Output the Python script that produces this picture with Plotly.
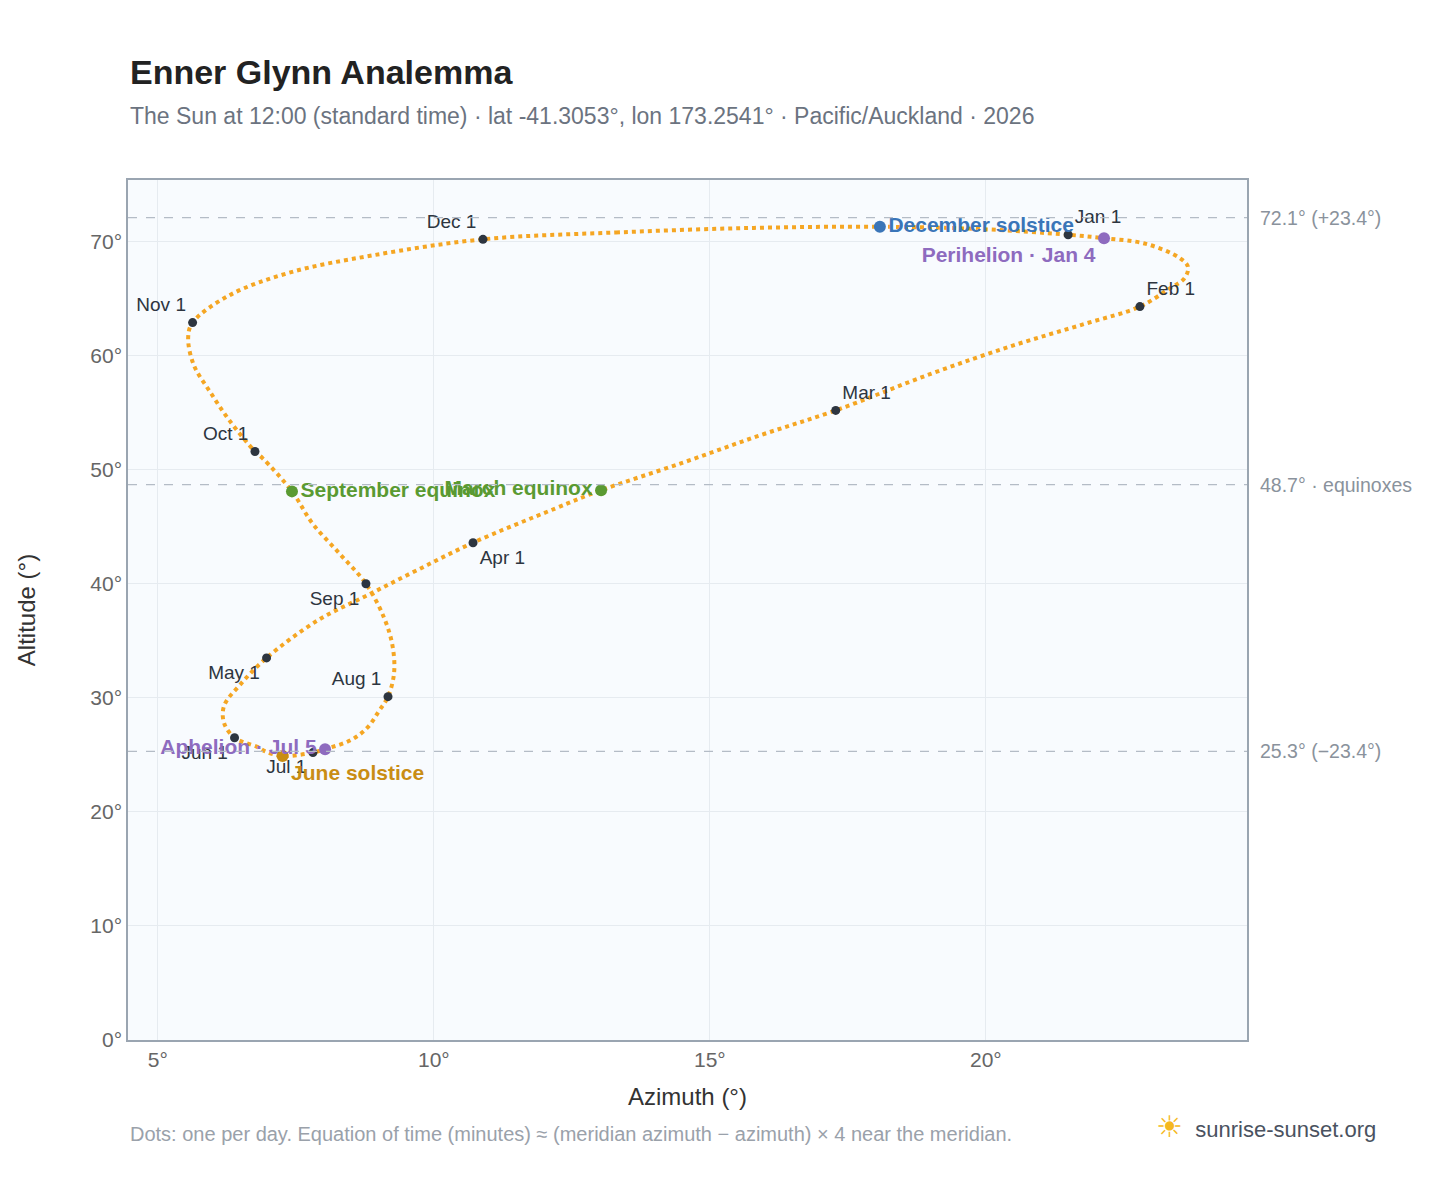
import plotly.graph_objects as go

# Path of the sun (~weekly)
path_az = [10.89, 13.3, 15.8, 18.08, 19.9, 21.49, 22.14, 22.9, 23.5, 23.66, 23.6, 23.3, 22.79, 21.8, 20.5, 19.0,
           17.28, 15.9, 14.5, 13.03, 12.2, 10.71, 9.7, 8.8, 7.9, 6.97, 6.5, 6.2, 6.2, 6.39, 6.8, 6.95, 7.26,
           7.81, 8.03, 8.5, 8.8, 9.0, 9.17, 9.28, 9.25, 9.1, 8.77, 8.3, 7.8, 7.43, 6.9, 6.76, 6.3, 5.95, 5.65,
           5.55, 5.63, 6.3, 7.4, 8.9, 10.89]
path_alt = [70.2, 70.8, 71.2, 71.3, 71.1, 70.6, 70.3, 69.8, 68.6, 67.8, 66.8, 65.8, 64.3, 62.8, 60.9, 58.4,
            55.2, 53.0, 50.6, 48.2, 46.6, 43.6, 41.2, 39.0, 36.8, 33.5, 31.2, 29.3, 27.8, 26.5, 25.7, 25.3, 24.9,
            25.2, 25.5, 26.3, 27.4, 28.8, 30.1, 32.2, 34.6, 37.0, 40.0, 42.6, 45.3, 48.1, 51.0, 51.6, 54.3, 56.8,
            59.2, 61.6, 62.9, 65.3, 67.3, 68.8, 70.2]

months = ["Jan 1", "Feb 1", "Mar 1", "Apr 1", "May 1", "Jun 1", "Jul 1", "Aug 1", "Sep 1", "Oct 1", "Nov 1", "Dec 1"]
month_az = [21.49, 22.79, 17.28, 10.71, 6.97, 6.39, 7.81, 9.17, 8.77, 6.76, 5.63, 10.89]
month_alt = [70.6, 64.3, 55.2, 43.6, 33.5, 26.5, 25.2, 30.1, 40.0, 51.6, 62.9, 70.2]
month_pos = ["top right", "top right", "top right", "bottom right", "bottom left", "bottom left",
             "bottom left", "top left", "bottom left", "top left", "top left", "top left"]

events = ["December solstice", "June solstice", "March equinox", "September equinox", "Perihelion · Jan 4", "Aphelion · Jul 5"]
event_az = [18.08, 7.26, 13.03, 7.43, 22.14, 8.03]
event_alt = [71.3, 24.9, 48.2, 48.1, 70.3, 25.5]
event_col = ["#3a75b8", "#c98d14", "#5a9a32", "#5a9a32", "#8e6bbf", "#8e6bbf"]
event_pos = ["middle right", "bottom right", "middle left", "middle right", "bottom left", "middle left"]

ref_alt = [72.1, 48.7, 25.3]
ref_lab = ["72.1° (+23.4°)", "48.7° · equinoxes", "25.3° (−23.4°)"]

x_ticks = [5, 10, 15, 20]

fig = go.Figure()
fig.add_trace(go.Scatter(x=path_az, y=path_alt, mode="lines",
                         line=dict(color="#f5a623", width=4, shape="spline", dash="dot", smoothing=1.0),
                         hoverinfo="skip"))
fig.add_trace(go.Scatter(x=month_az, y=month_alt, mode="markers+text", text=months, textposition=month_pos,
                         marker=dict(color="#2d3540", size=9), textfont=dict(color="#2d3540", size=19)))
fig.add_trace(go.Scatter(x=event_az, y=event_alt, mode="markers+text", text=events, textposition=event_pos,
                         marker=dict(color=event_col, size=12),
                         textfont=dict(color=event_col, size=21, family="Liberation Sans", weight="bold")))
for a, l in zip(ref_alt, ref_lab):
    fig.add_hline(y=a, line=dict(color="#b4bcc6", width=1.3, dash="dash"))
    fig.add_annotation(x=1.01, xref="paper", y=a, yref="y", text=l, showarrow=False, xanchor="left",
                       font=dict(color="#8a929c", size=19.5))

fig.add_annotation(x=0, y=1.126, xref="paper", yref="paper", text="<b>Enner Glynn Analemma</b>", showarrow=False,
                   xanchor="left", yanchor="middle", font=dict(size=34, color="#222"))
fig.add_annotation(x=0, y=1.074, xref="paper", yref="paper",
                   text="The Sun at 12:00 (standard time) · lat -41.3053°, lon 173.2541° · Pacific/Auckland · 2026",
                   showarrow=False, xanchor="left", yanchor="middle", font=dict(size=23, color="#6b7380"))
fig.add_annotation(x=0, y=-0.109, xref="paper", yref="paper",
                   text="Dots: one per day. Equation of time (minutes) ≈ (meridian azimuth − azimuth) × 4 near the meridian.",
                   showarrow=False, xanchor="left", yanchor="middle", font=dict(color="#9aa1aa", size=20))
fig.add_annotation(x=1.117, y=-0.1, xref="paper", yref="paper", text="<span style='color:#f5b820;font-size:30px'>☀</span>  sunrise-sunset.org",
                   showarrow=False, xanchor="right", yanchor="middle", font=dict(color="#4a5260", size=22))

fig.update_layout(
    width=1448, height=1188, showlegend=False,
    paper_bgcolor="white", plot_bgcolor="#f8fbfe",
    font=dict(family="Liberation Sans, Arial", color="#555d68"),
    margin=dict(l=120, r=209, t=172, b=156),
    xaxis=dict(range=[4.46, 24.73], tickvals=x_ticks, ticktext=[f"{v}°" for v in x_ticks], gridcolor="#e6ebf0",
               zeroline=False, showline=True, mirror=True, linecolor="#9aa5b1", linewidth=1.5,
               title=dict(text="Azimuth (°)", font=dict(size=24, color="#333"), standoff=18), tickfont=dict(size=21, color="#666")),
    yaxis=dict(range=[0, 75.4], dtick=10, ticksuffix="°", gridcolor="#e6ebf0",
               zeroline=False, showline=True, mirror=True, linecolor="#9aa5b1", linewidth=1.5,
               title=dict(text="Altitude (°)", font=dict(size=24, color="#333"), standoff=48), tickfont=dict(size=21, color="#666")),
)
fig.write_html("out.html")
